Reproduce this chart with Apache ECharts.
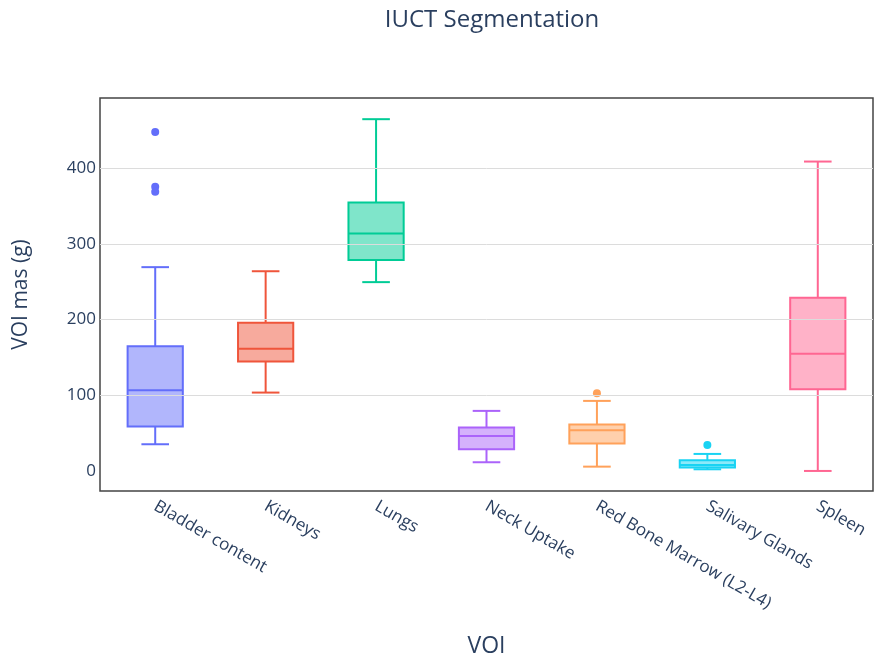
<!DOCTYPE html>
<html>
<head>
<meta charset="utf-8">
<script src="https://cdn.jsdelivr.net/npm/echarts@6/dist/echarts.min.js"></script>
<style>html,body{margin:0;padding:0;background:#fff;}#c{width:874px;height:663px;}</style>
</head>
<body>
<div id="c"></div>
<script>
const categories = ['Bladder content','Kidneys','Lungs','Neck Uptake','Red Bone Marrow (L2-L4)','Salivary Glands','Spleen'];
const mins    = [35.3, 103.6, 249.6, 11.5, 5.7, 2.2, 0];
const q1s     = [58.6, 144.6, 278.7, 28.7, 36.2, 4.4, 108];
const medians = [106.7, 161.4, 314, 46.3, 53.8, 8, 155];
const q3s     = [165, 196, 355, 57.3, 61.3, 14.1, 229];
const maxs    = [269.4, 264, 465, 79.4, 92.6, 22.5, 409];
const outlierCats   = [0, 0, 0, 4, 5];
const outlierValues = [448, 375.6, 369, 102.8, 34.4];
const yTicks = [0, 100, 200, 300, 400];

const colors = ['#636efa','#EF553B','#00cc96','#ab63fa','#FFA15A','#19d3f3','#FF6692'];
const FONT = '"Open Sans", "Noto Sans", sans-serif';
const TXT = '#2a3f5f';

function hexA(hex, a){
  const h = hex.replace('#','');
  const r = parseInt(h.substr(0,2),16), g = parseInt(h.substr(2,2),16), b = parseInt(h.substr(4,2),16);
  return 'rgba('+r+','+g+','+b+','+a+')';
}

const boxData = categories.map((c,i)=>[i, mins[i], q1s[i], medians[i], q3s[i], maxs[i]]);
const outData = outlierCats.map((c,i)=>[c, outlierValues[i]]);

function renderBox(params, api){
  const i = api.value(0);
  const col = colors[i];
  const xc = api.coord([i, 0])[0];
  const band = api.size([1, 0])[0];
  const bw = band * 0.5;
  const yMin = api.coord([i, api.value(1)])[1];
  const yQ1 = api.coord([i, api.value(2)])[1];
  const yMed = api.coord([i, api.value(3)])[1];
  const yQ3 = api.coord([i, api.value(4)])[1];
  const yMax = api.coord([i, api.value(5)])[1];
  const ls = {stroke: col, lineWidth: 2, fill: null};
  return {
    type: 'group',
    children: [
      {type:'line', shape:{x1:xc, y1:yQ3, x2:xc, y2:yMax}, style:ls},
      {type:'line', shape:{x1:xc, y1:yQ1, x2:xc, y2:yMin}, style:ls},
      {type:'line', shape:{x1:xc-bw/4, y1:yMax, x2:xc+bw/4, y2:yMax}, style:ls},
      {type:'line', shape:{x1:xc-bw/4, y1:yMin, x2:xc+bw/4, y2:yMin}, style:ls},
      {type:'rect', shape:{x:xc-bw/2, y:yQ3, width:bw, height:yQ1-yQ3}, style:{fill:hexA(col,0.5), stroke:col, lineWidth:2}},
      {type:'line', shape:{x1:xc-bw/2, y1:yMed, x2:xc+bw/2, y2:yMed}, style:ls}
    ]
  };
}

const chart = echarts.init(document.getElementById('c'), null, {renderer:'canvas'});
chart.setOption({
  backgroundColor: '#fff',
  animation: false,
  title: {
    text: 'IUCT Segmentation',
    left: 487, top: 3, textAlign: 'center',
    textStyle: {fontFamily: FONT, fontSize: 24, fontWeight: 'normal', color: TXT}
  },
  grid: {left: 100, right: 1, top: 98, bottom: 172, show: true, borderColor: '#444', borderWidth: 1.5, backgroundColor: 'transparent'},
  xAxis: {
    type: 'category',
    data: categories,
    boundaryGap: true,
    name: 'VOI',
    nameLocation: 'middle',
    nameGap: 144,
    nameTextStyle: {fontFamily: FONT, fontSize: 23, color: TXT},
    axisLine: {show: false},
    axisTick: {show: false},
    axisLabel: {rotate: -30, margin: 14, fontFamily: FONT, fontSize: 17, color: TXT, interval: 0},
    splitLine: {show: false}
  },
  yAxis: {
    type: 'value',
    min: -26.5, max: 493,
    name: 'VOI mas (g)',
    nameLocation: 'middle',
    nameGap: 68,
    nameTextStyle: {fontFamily: FONT, fontSize: 21, color: TXT},
    axisLine: {show: false},
    axisTick: {show: false},
    axisLabel: {show: false},
    splitLine: {show: false}
  },
  series: [
    {
      type: 'custom',
      renderItem: renderBox,
      data: boxData,
      encode: {x: 0, y: [1,2,3,4,5]},
      z: 3
    },
    {
      type: 'scatter',
      data: outData,
      symbolSize: 8,
      itemStyle: {color: p => colors[p.value[0]], opacity: 1},
      z: 4
    },
    {
      type: 'line',
      data: [],
      silent: true,
      markLine: {
        silent: true,
        symbol: 'none',
        label: {show: true, position: 'start', formatter: p => String(p.value), fontFamily: FONT, fontSize: 17, color: TXT, distance: 4},
        lineStyle: {color: '#dcdcdc', width: 1, type: 'solid'},
        data: yTicks.map(v => ({yAxis: v, lineStyle: {color: v === 0 ? 'rgba(0,0,0,0)' : '#dcdcdc'}}))
      },
      z: 1
    }
  ]
});
</script>
</body>
</html>
